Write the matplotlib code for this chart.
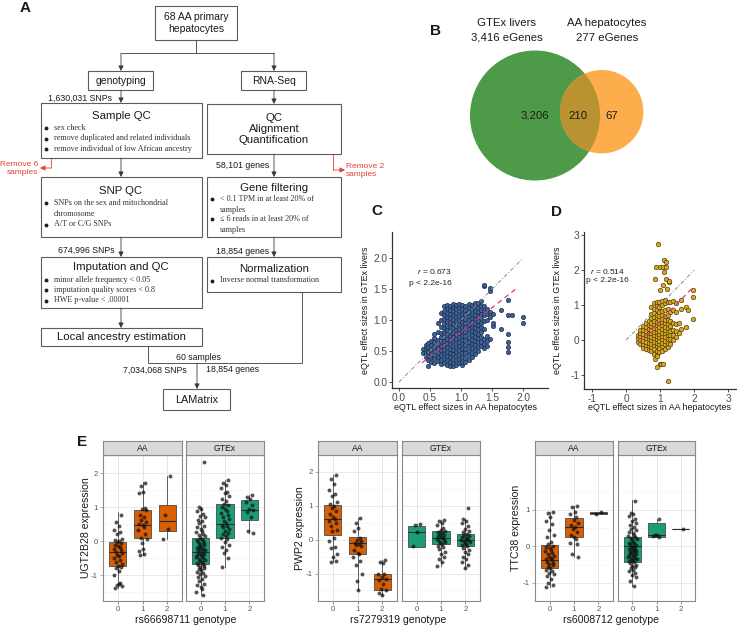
import matplotlib
matplotlib.use("Agg")
import matplotlib.pyplot as plt
from matplotlib.patches import Rectangle, Circle

W, H = 737, 626
SANS = ['Liberation Sans', 'DejaVu Sans']
SERIF = ['Liberation Serif', 'DejaVu Serif']
plt.rcParams['font.family'] = SANS
plt.rcParams['axes.unicode_minus'] = False
plt.rcParams['mathtext.fontset'] = 'custom'
plt.rcParams['mathtext.it'] = 'Liberation Sans:italic'
plt.rcParams['mathtext.rm'] = 'Liberation Sans'

# ---------------- panel A: flowchart text
start_label = '68 AA primary\nhepatocytes'
branch_labels = ['genotyping', 'RNA-Seq']
sample_qc = ['sex check', 'remove duplicated and related individuals',
             'remove individual of low African ancestry']
snp_qc = ['SNPs on the sex and mitochondrial', 'chromosome', 'A/T or C/G SNPs']
imput_qc = ['minor allele frequency < 0.05', 'imputation quality scores < 0.8',
            'HWE p-value < .00001']
gene_filter = ['< 0.1 TPM in at least 20% of', 'samples',
               '\u2264 6 reads in at least 20% of', 'samples']
norm_steps = ['Inverse normal transformation']
snp_counts = ['1,630,031 SNPs', '674,996 SNPs', '7,034,068 SNPs']
gene_counts = ['58,101 genes', '18,854 genes', '18,854 genes']
removed = ['Remove 6\nsamples', 'Remove 2\nsamples']

# ---------------- panel B: venn
venn_sets = ['GTEx livers', 'AA hepatocytes']
venn_totals = [3416, 277]
venn_parts = [3206, 210, 67]   # GTEx only, shared, AA only

# ---------------- panel C: AA (x) vs GTEx (y) effect sizes, columns of points
c_cols = [
    (0.38, [0.47, 0.53]),
    (0.43, [0.41, 0.47, 0.55, 0.60]),
    (0.47, [0.26, 0.35, 0.43, 0.49, 0.56, 0.63]),
    (0.52, [0.33, 0.40, 0.45, 0.53, 0.59, 0.66]),
    (0.57, [0.30, 0.38, 0.44, 0.51, 0.57, 0.65, 0.71, 0.77]),
    (0.62, [0.34, 0.41, 0.47, 0.55, 0.62, 0.68, 0.80, 0.95]),
    (0.67, [0.29, 0.36, 0.44, 0.52, 0.58, 0.66, 0.72, 0.79, 0.88, 1.00, 1.12]),
    (0.72, [0.31, 0.38, 0.46, 0.52, 0.60, 0.66, 0.73, 0.81, 0.87, 0.94, 1.02, 1.08, 1.15, 1.22]),
    (0.77, [0.27, 0.35, 0.42, 0.49, 0.57, 0.63, 0.70, 0.78, 0.84, 0.91, 0.99, 1.05, 1.12, 1.19, 1.25]),
    (0.82, [0.25, 0.32, 0.40, 0.46, 0.53, 0.61, 0.67, 0.74, 0.82, 0.88, 0.95, 1.03, 1.09, 1.16, 1.23]),
    (0.87, [0.25, 0.31, 0.37, 0.45, 0.51, 0.58, 0.66, 0.72, 0.79, 0.87, 0.93, 1.00, 1.08, 1.14, 1.21, 1.26]),
    (0.92, [0.28, 0.35, 0.43, 0.49, 0.56, 0.64, 0.70, 0.77, 0.85, 0.91, 0.98, 1.06, 1.12, 1.19, 1.25]),
    (0.97, [0.30, 0.37, 0.44, 0.52, 0.58, 0.65, 0.73, 0.79, 0.86, 0.94, 1.00, 1.07, 1.15, 1.21, 1.26]),
    (1.02, [0.27, 0.33, 0.41, 0.47, 0.54, 0.62, 0.68, 0.75, 0.83, 0.89, 0.96, 1.04, 1.10, 1.17, 1.24]),
    (1.07, [0.32, 0.39, 0.47, 0.53, 0.60, 0.68, 0.74, 0.81, 0.89, 0.95, 1.02, 1.10, 1.16, 1.23]),
    (1.12, [0.36, 0.43, 0.50, 0.58, 0.64, 0.71, 0.79, 0.85, 0.92, 1.00, 1.06, 1.13, 1.20, 1.26]),
    (1.17, [0.40, 0.47, 0.55, 0.61, 0.68, 0.76, 0.82, 0.89, 0.97, 1.03, 1.10, 1.18, 1.24]),
    (1.22, [0.45, 0.52, 0.60, 0.66, 0.73, 0.81, 0.87, 0.94, 1.02, 1.08, 1.15, 1.22, 1.28]),
    (1.27, [0.50, 0.57, 0.65, 0.71, 0.78, 0.86, 0.92, 0.99, 1.07, 1.13, 1.20, 1.27]),
    (1.32, [0.58, 0.65, 0.73, 0.80, 0.88, 0.95, 1.03, 1.09, 1.16, 1.23, 1.30]),
    (1.37, [0.55, 0.62, 0.70, 0.85, 0.98, 1.08, 1.15, 1.22, 1.55, 1.57]),
    (1.42, [0.58, 0.66, 0.74, 1.00, 1.10, 1.18]),
    (1.47, [0.70, 1.05, 1.13, 1.47, 1.52]),
    (1.52, [0.90, 0.95, 1.10]),
    (1.65, [0.85, 1.16]),
    (1.75, [0.48, 0.56, 0.64, 0.77, 1.08, 1.32]),
    (1.82, [1.08]),
    (1.99, [0.95, 1.05]),
]
c_fit_x, c_fit_y = [0.37, 1.92], [0.31, 1.53]
c_r = 0.673

# ---------------- panel D
d_cols = [
    (0.35, [-0.05, 0.05, 0.14]),
    (0.42, [-0.10, 0.00, 0.11, 0.19, 0.30]),
    (0.50, [-0.22, -0.12, -0.03, 0.08, 0.17, 0.28, 0.40]),
    (0.58, [-0.25, -0.15, -0.06, 0.05, 0.14, 0.25, 0.36, 0.48]),
    (0.66, [-0.28, -0.18, -0.08, 0.03, 0.12, 0.21, 0.32, 0.43, 0.55]),
    (0.74, [-0.30, -0.20, -0.11, 0.00, 0.10, 0.19, 0.30, 0.41, 0.50, 0.62, 0.75, 0.95]),
    (0.82, [-0.40, -0.25, -0.15, -0.05, 0.06, 0.15, 0.24, 0.35, 0.46, 0.55, 0.65, 0.78, 0.90, 1.05]),
    (0.90, [-0.42, -0.30, -0.18, -0.08, 0.02, 0.13, 0.22, 0.31, 0.42, 0.53, 0.62, 0.72, 0.85, 1.00, 1.10]),
    (0.98, [-0.35, -0.22, -0.12, -0.02, 0.09, 0.18, 0.27, 0.38, 0.49, 0.58, 0.68, 0.80, 0.95, 1.10]),
    (1.06, [-0.30, -0.18, -0.08, 0.03, 0.12, 0.21, 0.32, 0.43, 0.52, 0.61, 0.72, 0.82, 1.00, 1.12]),
    (1.14, [-0.25, -0.12, -0.02, 0.08, 0.19, 0.28, 0.37, 0.48, 0.58, 0.70, 0.85, 1.05, 1.15]),
    (1.22, [-0.20, -0.08, 0.04, 0.15, 0.24, 0.34, 0.46, 0.58, 0.72, 0.90, 1.08]),
    (1.30, [-0.10, 0.02, 0.14, 0.26, 0.40, 0.55, 0.80, 1.10]),
    (1.38, [0.00, 0.15, 0.30, 0.50, 0.85, 1.12]),
    (1.46, [0.10, 0.25, 0.45, 0.80, 1.05]),
    (1.55, [0.20, 0.50]),
    (1.62, [0.31, 0.90, 1.14]),
    (1.76, [0.37, 0.95]),
    (1.83, [0.85]),
    (1.97, [0.61, 1.22, 1.43]),
    (0.85, [1.74]),
    (0.87, [2.10]),
    (0.95, [2.76]),
    (0.99, [-0.69, 1.43, 2.10]),
    (1.04, [-0.69]),
    (1.09, [-0.69, 1.57, 2.10]),
    (1.11, [1.95, 2.28]),
    (1.16, [1.76, 2.10, 2.23]),
    (1.20, [1.47]),
    (1.22, [-1.17]),
    (1.27, [1.65, 1.69]),
    (0.84, [-0.55]),
    (0.91, [-0.45, -0.76]),
]
d_fit_x, d_fit_y = [0.39, 2.00], [-0.07, 1.54]
d_r = 0.514

# ---------------- panel E: expression by genotype (y values per genotype 0/1/2)
ugt_aa = [
    [0.78, 0.55, 0.45, 0.33, 0.28, 0.20, 0.05, 0.02, 0.00, -0.03, -0.06, -0.10, -0.13, -0.18,
     -0.22, -0.27, -0.31, -0.35, -0.40, -0.44, -0.50, -0.55, -0.60, -0.66, -0.72, -0.76, -0.80,
     -0.88, -1.00, -1.22, -1.28, -1.32, -1.38, -1.26],
    [1.72, 1.62, 1.45, 1.42, 0.98, 0.95, 0.90, 0.78, 0.72, 0.62, 0.55, 0.50, 0.46, 0.40, 0.32,
     0.20, 0.10, 0.05, -0.05, -0.22, -0.30, -0.38, -0.42],
    [1.90, 0.76, 0.37, 0.07],
]
ugt_gtex = [
    [2.33, 1.00, 0.95, 0.88, 0.80, 0.75, 0.70, 0.62, 0.58, 0.52, 0.45, 0.40, 0.35, 0.30, 0.26,
     0.22, 0.18, 0.14, 0.10, 0.07, 0.04, 0.01, -0.02, -0.05, -0.08, -0.10, -0.13, -0.16, -0.19,
     -0.22, -0.24, -0.27, -0.30, -0.32, -0.35, -0.37, -0.40, -0.42, -0.45, -0.48, -0.50, -0.53,
     -0.56, -0.59, -0.62, -0.65, -0.68, -0.70, -0.73, -0.76, -0.79, -0.82, -0.86, -0.90, -0.94,
     -0.98, -1.02, -1.06, -1.12, -1.18, -1.25, -1.30, -1.35, -1.42, -1.50, -1.58],
    [1.80, 1.72, 1.65, 1.55, 1.45, 1.40, 1.32, 1.25, 1.18, 1.10, 1.05, 1.00, 0.95, 0.88, 0.82,
     0.76, 0.70, 0.64, 0.58, 0.53, 0.48, 0.44, 0.40, 0.35, 0.30, 0.25, 0.20, 0.15, 0.10, 0.05,
     -0.02, -0.10, -0.18, -0.25, -0.35, -0.50, -0.75],
    [1.35, 1.30, 1.25, 1.15, 1.05, 0.95, 0.90, 0.85, 0.70, 0.30, 0.24],
]
# box stats: q1, median, q3, lower whisker, upper whisker
ugt_aa_box = [(-0.72, -0.33, -0.03, -1.38, 0.85), (0.10, 0.48, 0.90, -0.42, 1.75),
              (0.30, 0.59, 1.07, 0.07, 1.90)]
ugt_gtex_box = [(-0.68, -0.32, 0.08, -1.58, 1.00), (0.10, 0.50, 1.09, -0.75, 1.80),
                (0.62, 0.92, 1.20, 0.24, 1.36)]

pwp_aa = [
    [1.90, 1.80, 1.65, 1.48, 1.36, 1.30, 1.12, 1.05, 1.00, 0.95, 0.85, 0.75, 0.68, 0.60, 0.55,
     0.48, 0.40, 0.30, 0.25, 0.05, -0.05, -0.22, -0.25, -0.42, -0.50, -0.62, -0.65],
    [0.63, 0.50, 0.35, 0.25, 0.05, 0.00, -0.05, -0.09, -0.12, -0.15, -0.20, -0.30, -0.38, -0.42,
     -0.50, -0.62, -0.75, -1.00, -1.22, -1.48],
    [-0.60, -0.65, -0.70, -1.00, -1.02, -1.10, -1.15, -1.20, -1.30, -1.45, -1.50, -1.56, -1.63],
]
pwp_gtex = [
    [0.45, 0.42, 0.22, -0.20],
    [0.58, 0.56, 0.50, 0.42, 0.35, 0.30, 0.27, 0.24, 0.20, 0.17, 0.14, 0.11, 0.08, 0.05, 0.02,
     -0.01, -0.04, -0.07, -0.10, -0.13, -0.18, -0.23, -0.28, -0.35, -0.42, -0.50, -0.58, -0.65,
     -0.77],
    [0.94, 0.60, 0.55, 0.48, 0.40, 0.32, 0.26, 0.22, 0.18, 0.14, 0.11, 0.08, 0.05, 0.02, 0.00,
     -0.02, -0.05, -0.08, -0.11, -0.14, -0.17, -0.20, -0.25, -0.30, -0.36, -0.42, -0.50, -0.58,
     -0.66, -0.75, -0.84],
]
pwp_aa_box = [(0.15, 0.60, 1.01, -0.66, 1.90), (-0.43, -0.09, 0.09, -1.48, 0.64),
              (-1.49, -1.17, -1.00, -1.65, -0.60)]
pwp_gtex_box = [(-0.21, 0.22, 0.40, -0.21, 0.45), (-0.13, 0.06, 0.27, -0.77, 0.58),
                (-0.18, 0.00, 0.18, -0.84, 0.60)]

ttc_aa = [
    [0.94, 0.90, 0.80, 0.68, 0.60, 0.45, 0.30, 0.25, 0.12, 0.05, 0.02, -0.02, -0.06, -0.10,
     -0.14, -0.18, -0.22, -0.26, -0.30, -0.33, -0.36, -0.39, -0.42, -0.45, -0.48, -0.52, -0.56,
     -0.60, -0.64, -0.68, -0.72, -0.76, -0.82, -0.90, -1.00, -1.05, -1.12],
    [1.11, 1.08, 0.95, 0.88, 0.80, 0.72, 0.65, 0.58, 0.53, 0.47, 0.40, 0.30, 0.25, 0.20, 0.10,
     0.05, -0.22, -0.30],
    [0.93, 0.89],
]
ttc_gtex = [
    [1.25, 0.92, 0.88, 0.82, 0.76, 0.70, 0.64, 0.58, 0.53, 0.48, 0.44, 0.40, 0.36, 0.32, 0.28,
     0.25, 0.22, 0.19, 0.16, 0.13, 0.10, 0.08, 0.05, 0.03, 0.01, -0.01, -0.03, -0.05, -0.07,
     -0.09, -0.11, -0.13, -0.15, -0.17, -0.19, -0.21, -0.23, -0.25, -0.27, -0.29, -0.31, -0.33,
     -0.35, -0.37, -0.39, -0.41, -0.44, -0.47, -0.50, -0.53, -0.56, -0.60, -0.64, -0.68, -0.72,
     -0.78, -0.85, -0.95, -1.08],
    [0.74, 0.32, 0.30, 0.28, 0.25],
    [0.48],
]
ttc_aa_box = [(-0.60, -0.37, 0.04, -1.12, 0.94), (0.26, 0.53, 0.78, -0.30, 1.11),
              (0.89, 0.91, 0.93, 0.89, 0.93)]
ttc_gtex_box = [(-0.42, 0.00, 0.24, -1.08, 1.26), (0.26, 0.30, 0.63, 0.24, 0.74),
                (0.48, 0.48, 0.48, 0.48, 0.48)]

genotypes = ['0', '1', '2']
cohorts = ['AA', 'GTEx']
JIT = [0.12, -0.08, 0.03, -0.15, 0.09, -0.02, 0.16, -0.11, 0.05, -0.05, 0.14, -0.13, 0.01,
       0.07, -0.17, 0.11, -0.07, 0.18, -0.03, 0.04, -0.14, 0.08, -0.09, 0.15, -0.01]

fig = plt.figure(figsize=(W / 100, H / 100), dpi=100)


def px_axes(l, t, r, b):
    return fig.add_axes([l / W, 1 - b / H, (r - l) / W, (b - t) / H])


ov = px_axes(0, 0, W, H)
ov.set_xlim(0, W)
ov.set_ylim(H, 0)
ov.axis('off')

LINE = '#3a3a3a'
RED = '#e2413a'


def box(l, t, r, b):
    ov.add_patch(Rectangle((l, t), r - l, b - t, fill=False, ec='#5c5c5c', lw=0.8))


def seg(xs, ys, c=LINE):
    ov.plot(xs, ys, color=c, lw=0.6, solid_capstyle='butt')


def arrow(x0, y0, x1, y1, c=LINE):
    ov.annotate('', xy=(x1, y1), xytext=(x0, y0),
                arrowprops=dict(arrowstyle='-|>,head_length=0.3,head_width=0.15', color=c,
                                lw=0.6, shrinkA=0, shrinkB=0))


def txt(x, y, s, size=7.5, ha='center', **kw):
    ov.text(x, y, s, ha=ha, va='center', fontsize=size, color='#1a1a1a', **kw)


def bullets(x, ys, lines, dots=None):
    dots = dots or [1] * len(lines)
    for y, s, d in zip(ys, lines, dots):
        if d:
            ov.plot(x, y, 'o', ms=1.8, color='#222222')
        ov.text(x + 8, y, s, family=SERIF, fontsize=5.9, va='center', color='#333333')


# ---- A: flowchart
txt(25, 8, 'A', size=11, fontweight='bold')
box(155, 6, 237, 40)
txt(196, 23, start_label, linespacing=1.2)
seg([196, 196], [40, 53])
seg([121, 274], [53, 53])
arrow(121, 53, 121, 71)
arrow(274, 53, 274, 71)
box(88, 71, 153, 90)
txt(121, 81, branch_labels[0])
box(241, 71, 306, 90)
txt(274, 81, branch_labels[1])

arrow(121, 90, 121, 103)
txt(112, 98, snp_counts[0], size=6.3, ha='right')
arrow(274, 90, 274, 104)
box(41, 103, 202, 158)
txt(121, 116, 'Sample QC', size=8.2)
bullets(46, [128, 138.5, 149], sample_qc)
box(207, 104, 341, 154)
txt(274, 129, 'QC\nAlignment\nQuantification', size=8.2, linespacing=1.15)

seg([51, 51], [158, 168], c=RED)
arrow(51, 168, 40, 168, c=RED)
ov.text(38, 169, removed[0], ha='right', va='center', fontsize=6, color=RED, linespacing=1.2)
seg([333, 333], [154, 170], c=RED)
arrow(333, 170, 345, 170, c=RED)
ov.text(346, 171, removed[1], ha='left', va='center', fontsize=6, color=RED, linespacing=1.2)

arrow(121, 158, 121, 177)
arrow(274, 154, 274, 177)
txt(269, 166, gene_counts[0], size=6.3, ha='right')
box(41, 177, 202, 237)
txt(121, 191, 'SNP QC', size=8.2)
bullets(46, [203, 214, 224.5], snp_qc, [1, 0, 1])
box(207, 177, 341, 237)
txt(274, 188, 'Gene filtering', size=8.2)
bullets(212, [199, 209.5, 219, 229.5], gene_filter, [1, 0, 1, 0])

arrow(121, 237, 121, 257)
txt(115, 250, snp_counts[1], size=6.3, ha='right')
arrow(274, 237, 274, 257)
txt(269, 251, gene_counts[1], size=6.3, ha='right')
box(41, 257, 202, 308)
txt(121, 267, 'Imputation and QC', size=8.2)
bullets(46, [279.5, 290, 300.5], imput_qc)
box(207, 257, 341, 292)
txt(274, 269, 'Normalization', size=8.2)
bullets(212, [280.5], norm_steps)

arrow(121, 308, 121, 328)
box(41, 328, 202, 346)
txt(121, 337, 'Local ancestry estimation', size=8.2)
seg([148, 148], [346, 363])
seg([148, 302], [363, 363])
seg([302, 302], [292, 363])
txt(198, 357, '60 samples', size=6.3)
txt(187, 370, snp_counts[2], size=6.3, ha='right')
txt(206, 370, gene_counts[2], size=6.3, ha='left')
arrow(197, 363, 197, 389)
box(163, 389, 230, 410)
txt(197, 400, 'LAMatrix', size=7.8)

# ---- B: venn
txt(436, 31, 'B', size=11, fontweight='bold')
for cx, name, tot in zip([507, 607], venn_sets, venn_totals):
    txt(cx, 23, name, size=8.2)
    txt(cx, 38, f'{tot:,} eGenes', size=8.2)
g_circ = Circle((535, 115.5), 65, fc='#4d9b48', ec='none')
o_circ = Circle((601.7, 111.7), 41.7, fc='#fdad4c', ec='none')
both = Circle((601.7, 111.7), 41.7, fc='#b99331', ec='none')
ov.add_patch(g_circ)
ov.add_patch(o_circ)
ov.add_patch(both)
both.set_clip_path(g_circ)
for x, n in zip([535, 578, 612], venn_parts):
    txt(x, 116, f'{n:,}', size=8.2)


# ---- C and D: scatter
def classic(ax):
    for s in ['top', 'right']:
        ax.spines[s].set_visible(False)
    for s in ['left', 'bottom']:
        ax.spines[s].set_color('#333333')
        ax.spines[s].set_linewidth(0.9)
    ax.tick_params(length=2.5, width=0.6, color='#333333', labelsize=7.3,
                   labelcolor='#4d4d4d', pad=1)
    ax.patch.set_alpha(0)


def flatten(cols):
    xs = [x for x, ys in cols for _ in ys]
    ys = [y for _, ys in cols for y in ys]
    return xs, ys


axc = px_axes(392, 232, 548, 388)
cx_, cy_ = flatten(c_cols)
axc.scatter(cx_, cy_, s=10, c='#3b6196', edgecolors='#14213a', linewidths=0.4, zorder=2)
axc.plot([0, 2], [0, 2], ls=(0, (4, 2, 1, 2)), color='#8a8a8a', lw=0.7, zorder=3)
axc.plot(c_fit_x, c_fit_y, ls=(0, (4, 3)), color='#e0338a', lw=0.9, zorder=3)
axc.set_xlim(-0.113, 2.40)
axc.set_ylim(-0.097, 2.42)
axc.set_xticks([0, 0.5, 1, 1.5, 2])
axc.set_yticks([0, 0.5, 1, 1.5, 2])
axc.set_xticklabels(['0.0', '0.5', '1.0', '1.5', '2.0'])
axc.set_yticklabels(['0.0', '0.5', '1.0', '1.5', '2.0'])
classic(axc)
axc.text(0.57, 1.78, f'$r$ = {c_r}', ha='center', va='center', fontsize=6, color='#222')
axc.text(0.50, 1.59, 'p < 2.2e-16', ha='center', va='center', fontsize=6, color='#222')

axd = px_axes(584, 232, 737, 389)
dx_, dy_ = flatten(d_cols)
axd.scatter(dx_, dy_, s=11, c='#d8a720', edgecolors='#3a2c08', linewidths=0.4, zorder=2)
axd.plot([0, 2], [0, 2], ls=(0, (4, 2, 1, 2)), color='#8a8a8a', lw=0.7, zorder=3)
axd.plot(d_fit_x, d_fit_y, ls=(0, (4, 3)), color='#e0338a', lw=0.9, zorder=3)
axd.set_xlim(-1.235, 3.26)
axd.set_ylim(-1.40, 3.09)
axd.set_xticks([-1, 0, 1, 2, 3])
axd.set_yticks([-1, 0, 1, 2, 3])
classic(axd)
axd.text(-0.55, 1.97, f'$r$ = {d_r}', ha='center', va='center', fontsize=6, color='#222')
axd.text(-0.55, 1.69, 'p < 2.2e-16', ha='center', va='center', fontsize=6, color='#222')

txt(377, 211, 'C', size=11, fontweight='bold')
txt(557, 212, 'D', size=11, fontweight='bold')
for x in [366, 558]:
    txt(x, 310, 'eQTL effect sizes in GTEx livers', size=6.4, rotation=90)
for x in [466, 660]:
    txt(x, 408, 'eQTL effect sizes in AA hepatocytes', size=6.4)

# ---- E: box plots by genotype
txt(82, 442, 'E', size=11, fontweight='bold')
facets = [
    dict(gene='UGT2B28', snp='rs66698711', xs=[(103, 182), (186, 264)], ylim=(-1.76, 2.53),
         yt=[-1, 0, 1, 2], pts=[ugt_aa, ugt_gtex], bx=[ugt_aa_box, ugt_gtex_box], ylx=86, xlx=186),
    dict(gene='PWP2', snp='rs7279319', xs=[(318, 397), (402, 480)], ylim=(-1.81, 2.14),
         yt=[-1, 0, 1, 2], pts=[pwp_aa, pwp_gtex], bx=[pwp_aa_box, pwp_gtex_box], ylx=300, xlx=398),
    dict(gene='TTC38', snp='rs6008712', xs=[(535, 613), (618, 695)], ylim=(-1.27, 1.98),
         yt=[-1, 0, 1], pts=[ttc_aa, ttc_gtex], bx=[ttc_aa_box, ttc_gtex_box], ylx=516, xlx=611),
]
fills = ['#d95f02', '#1b9e77']

for f in facets:
    for k, (l, r) in enumerate(f['xs']):
        ax = px_axes(l, 455, r, 601)
        ax.set_xlim(-0.6, 2.6)
        ax.set_ylim(*f['ylim'])
        ax.set_xticks([0, 1, 2])
        ax.set_xticklabels(genotypes)
        ax.set_yticks(f['yt'])
        ax.set_yticks([v + 0.5 for v in range(-2, 3)], minor=True)
        ax.set_yticklabels([str(v) for v in f['yt']])
        ax.grid(True, which='major', color='#e6e6e6', lw=0.6)
        ax.grid(True, which='minor', axis='y', color='#f2f2f2', lw=0.4)
        ax.set_axisbelow(True)
        for s in ax.spines.values():
            s.set_color('#8a8a8a')
            s.set_linewidth(0.8)
        ax.tick_params(which='major', length=2, width=0.5, color='#8a8a8a', labelsize=5.6,
                       labelcolor='#555555', pad=1.5)
        ax.tick_params(which='minor', length=0)
        if k == 1:
            ax.tick_params(left=False, labelleft=False)
        stats = [dict(q1=q1, med=m, q3=q3, whislo=lo, whishi=hi)
                 for q1, m, q3, lo, hi in f['bx'][k]]
        ax.bxp(stats, positions=[0, 1, 2], widths=0.7, patch_artist=True, showfliers=False,
               showcaps=False,
               boxprops=dict(facecolor=fills[k], edgecolor='#4a4a4a', lw=0.6),
               medianprops=dict(color='#2b2b2b', lw=0.8),
               whiskerprops=dict(color='#4a4a4a', lw=0.6))
        for g, ys in enumerate(f['pts'][k]):
            xs = [g + JIT[i % len(JIT)] for i in range(len(ys))]
            ax.scatter(xs, ys, s=8, c='#111111', alpha=0.72, linewidths=0, zorder=4)
        sa = px_axes(l, 441, r, 455)
        sa.set_facecolor('#d9d9d9')
        sa.set_xticks([])
        sa.set_yticks([])
        for s in sa.spines.values():
            s.set_color('#8a8a8a')
            s.set_linewidth(0.8)
        sa.text(0.5, 0.45, cohorts[k], transform=sa.transAxes, ha='center', va='center',
                fontsize=6.2, color='#1a1a1a')
    txt(f['ylx'], 528, f['gene'] + ' expression', size=7.6, rotation=90)
    txt(f['xlx'], 620, f['snp'] + ' genotype', size=7.6)

fig.savefig('out.png', dpi=100)
